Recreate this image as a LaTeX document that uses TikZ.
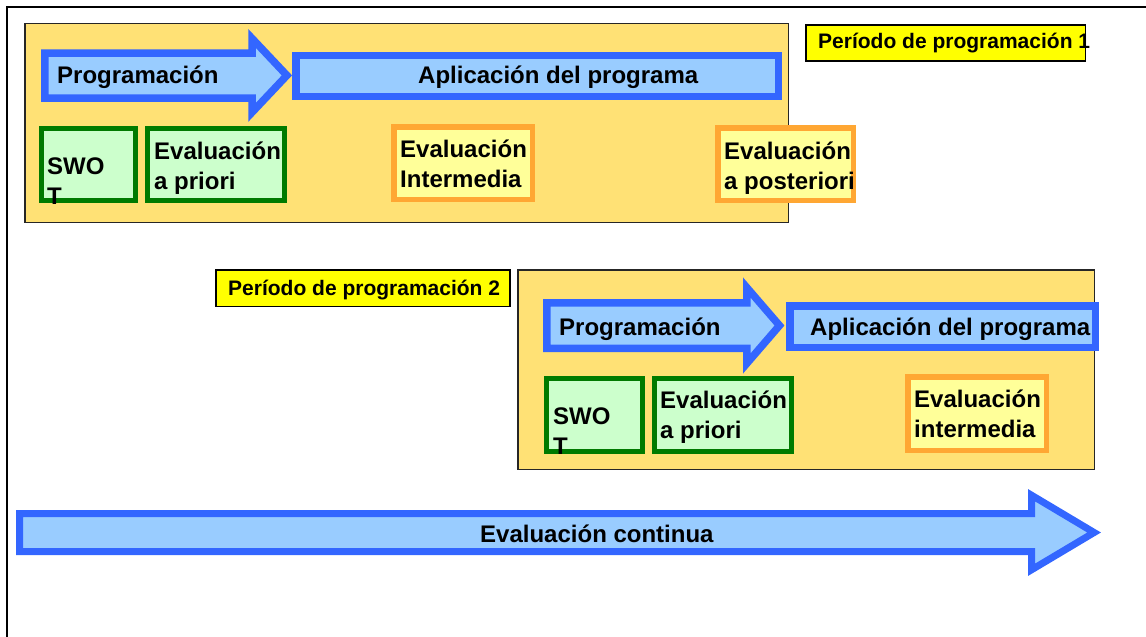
\documentclass[tikz,border=0pt]{standalone}
\usepackage{fontspec}
\setmainfont{Liberation Sans}
\definecolor{bborder}{HTML}{3366FF}
\definecolor{bfill}{HTML}{99CCFF}
\definecolor{gborder}{HTML}{007A00}
\definecolor{gfill}{HTML}{CCFFCC}
\definecolor{oborder}{HTML}{FFA733}
\definecolor{ofill}{HTML}{FFFF99}
\definecolor{pfill}{HTML}{FFE175}
\definecolor{lfill}{HTML}{FFFF00}
\newcommand\twoln[2]{\vtop{\hbox{#1}\hbox{#2}}}
\tikzset{
  period/.style={rectangle, draw=black!85, fill=pfill, line width=1.5pt, inner sep=0},
  plabel/.style={rectangle, draw=black, fill=lfill, line width=1.5pt, inner sep=0},
  bluearrow/.style={draw=bborder, fill=bfill, line width=7.5pt, line join=miter},
  bluebox/.style={rectangle, draw=bborder, fill=bfill, line width=7.5pt, inner sep=0},
  greenbox/.style={rectangle, draw=gborder, fill=gfill, line width=5pt, inner sep=0},
  orangebox/.style={rectangle, draw=oborder, fill=ofill, line width=5.5pt, inner sep=0},
  txt/.style={anchor=base west, inner sep=0, font=\bfseries\fontsize{24}{30}\selectfont},
  ltxt/.style={anchor=base west, inner sep=0, font=\bfseries\fontsize{21}{25}\selectfont},
}
\begin{document}
\begin{tikzpicture}[x=1pt, y=-1pt]
\useasboundingbox (0,0) rectangle (1146,637);
% outer frame
\draw[line width=2pt] (7,637) -- (7,6.5) -- (1146,6.5);

% ---------- period 1 ----------
\node[period, minimum width=763.5pt, minimum height=199.2pt] (per1) at (406.5,123) {};
\node[plabel, minimum width=279.2pt, minimum height=36.2pt] (lab1) at (945.7,42.85) {};
\node[ltxt] (lab1t) at (818,48.3) {Período de programación 1};

\draw[bluearrow] (44.75,53) -- (252,53) -- (252,38.4) -- (286.9,75.4) -- (252,112.4) -- (252,98) -- (44.75,98) -- cycle;
\node[txt] (prog1t) at (57,83.5) {Programación};
\node[bluebox, minimum width=482.5pt, minimum height=40.8pt] (app1) at (537,75.9) {};
\node[txt] (app1t) at (418,83.5) {Aplicación del programa};

\node[greenbox, minimum width=94pt, minimum height=72pt] (swot1) at (88.5,164.5) {};
\node[txt] (swot1t) at (47,174) {\twoln{SWO}{T}};
\node[greenbox, minimum width=137pt, minimum height=72pt] (prio1) at (216,164.5) {};
\node[txt] (prio1t) at (154,159) {\twoln{Evaluación}{a priori}};
\node[orangebox, minimum width=138.5pt, minimum height=72.5pt] (inter1) at (463,163) {};
\node[txt] (inter1t) at (400,157) {\twoln{Evaluación}{Intermedia}};
\node[orangebox, minimum width=135.5pt, minimum height=72.5pt] (post1) at (785.5,164) {};
\node[txt] (post1t) at (724,159) {\twoln{Evaluación}{a posteriori}};

% ---------- period 2 ----------
\node[plabel, minimum width=294.2pt, minimum height=36.5pt] (lab2) at (362.85,288) {};
\node[ltxt] (lab2t) at (228,295) {Período de programación 2};
\node[period, minimum width=576.5pt, minimum height=199.5pt] (per2) at (806,369.5) {};

\draw[bluearrow] (546.75,302.75) -- (746.75,302.75) -- (746.75,287.5) -- (779.5,325.5) -- (746.75,363.5) -- (746.75,348.25) -- (546.75,348.25) -- cycle;
\node[txt] (prog2t) at (559,335) {Programación};
\node[bluebox, minimum width=305.5pt, minimum height=41.5pt] (app2) at (942.5,326.5) {};
\node[txt] (app2t) at (810,335) {Aplicación del programa};

\node[greenbox, minimum width=96pt, minimum height=73pt] (swot2) at (594.5,415) {};
\node[txt] (swot2t) at (553,424) {\twoln{SWO}{T}};
\node[greenbox, minimum width=137.5pt, minimum height=73pt] (prio2) at (722.75,415) {};
\node[txt] (prio2t) at (660,408) {\twoln{Evaluación}{a priori}};
\node[orangebox, minimum width=138.5pt, minimum height=73.5pt] (inter2) at (977,413.5) {};
\node[txt] (inter2t) at (914,407) {\twoln{Evaluación}{intermedia}};

% ---------- continuous evaluation ----------
\draw[bluearrow, line width=7pt] (19.5,513.5) -- (1031.5,513.5) -- (1031.5,495.2) -- (1094.1,532.5) -- (1031.5,569.8) -- (1031.5,551.5) -- (19.5,551.5) -- cycle;
\node[txt] (contt) at (480,542.7) {Evaluación continua};
\end{tikzpicture}
\end{document}
